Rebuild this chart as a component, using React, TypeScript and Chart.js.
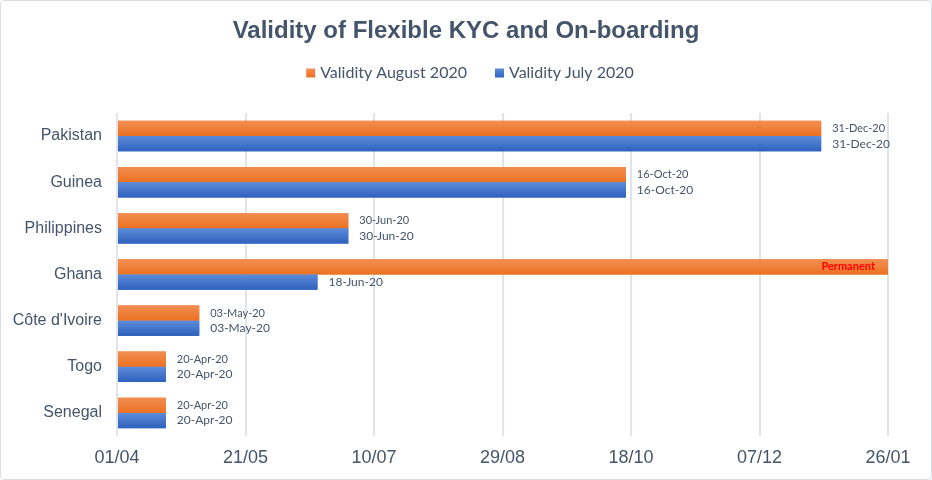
import { useEffect, useRef } from "react";
import { Chart, registerables } from "chart.js";

Chart.register(...registerables);

// Countries, top to bottom
const countries = ["Pakistan", "Guinea", "Philippines", "Ghana", "Côte d'Ivoire", "Togo", "Senegal"];

// Validity end dates (ISO); "Permanent" runs to the end of the axis
const validityAugust2020 = ["2020-12-31", "2020-10-16", "2020-06-30", "Permanent", "2020-05-03", "2020-04-20", "2020-04-20"];
const validityJuly2020 = ["2020-12-31", "2020-10-16", "2020-06-30", "2020-06-18", "2020-05-03", "2020-04-20", "2020-04-20"];

const seriesNames = ["Validity August 2020", "Validity July 2020"];

// Date axis: 01/04/2020 to 26/01/2021, a tick every 50 days
const axisStart = "2020-04-01";
const axisEnd = "2021-01-26";
const tickStepDays = 50;

const DAY = 86400000;
const MONTHS = ["Jan", "Feb", "Mar", "Apr", "May", "Jun", "Jul", "Aug", "Sep", "Oct", "Nov", "Dec"];

const toUtc = (iso: string) => {
  const [y, m, d] = iso.split("-").map(Number);
  return Date.UTC(y, m - 1, d);
};
const startMs = toUtc(axisStart);
const totalDays = Math.round((toUtc(axisEnd) - startMs) / DAY);
const daysFromStart = (v: string) => (v === "Permanent" ? totalDays : Math.round((toUtc(v) - startMs) / DAY));
const pad2 = (n: number) => String(n).padStart(2, "0");
const labelFor = (v: string) => {
  if (v === "Permanent") return v;
  const d = new Date(toUtc(v));
  return `${pad2(d.getUTCDate())}-${MONTHS[d.getUTCMonth()]}-${String(d.getUTCFullYear()).slice(2)}`;
};
const tickLabel = (days: number) => {
  const d = new Date(startMs + days * DAY);
  return `${pad2(d.getUTCDate())}/${pad2(d.getUTCMonth() + 1)}`;
};

const TEXT = "#44546A";
const ORANGE = ["#F38E52", "#EB7121"];
const BLUE = ["#5C8CD9", "#2E61BD"];
const FILLS = [ORANGE, BLUE];
const rawSeries = [validityAugust2020, validityJuly2020];

const chromePlugin = {
  id: "chrome",
  beforeDraw(chart: any) {
    const { ctx, width, height } = chart;
    ctx.save();
    ctx.fillStyle = "#FFFFFF";
    ctx.fillRect(0, 0, width, height);
    ctx.strokeStyle = "#D9DDE3";
    ctx.lineWidth = 1;
    ctx.beginPath();
    ctx.roundRect(0.5, 0.5, width - 1, height - 1, 4);
    ctx.stroke();

    // title
    ctx.fillStyle = TEXT;
    ctx.font = "bold 24px 'Liberation Sans', Arial, sans-serif";
    ctx.textAlign = "center";
    ctx.textBaseline = "middle";
    ctx.fillText("Validity of Flexible KYC and On-boarding", width / 2, 31);

    // legend
    ctx.font = "16px Lato, sans-serif";
    ctx.textAlign = "left";
    const box = 9, gap = 5, spacing = 28;
    const widths = seriesNames.map((n) => ctx.measureText(n).width);
    const total = widths.reduce((a, w) => a + box + gap + w, 0) + spacing * (seriesNames.length - 1);
    let x = width / 2 + 4 - total / 2;
    const ly = 73;
    seriesNames.forEach((n, i) => {
      const g = ctx.createLinearGradient(0, ly - box / 2, 0, ly + box / 2);
      g.addColorStop(0, FILLS[i][0]);
      g.addColorStop(1, FILLS[i][1]);
      ctx.fillStyle = g;
      ctx.fillRect(x, ly - box / 2, box, box);
      ctx.fillStyle = TEXT;
      ctx.fillText(n, x + box + gap, ly);
      x += box + gap + widths[i] + spacing;
    });
    ctx.restore();
  },
  afterDatasetsDraw(chart: any) {
    const { ctx } = chart;
    ctx.save();
    chart.data.datasets.forEach((_: any, di: number) => {
      const meta = chart.getDatasetMeta(di);
      meta.data.forEach((el: any, j: number) => {
        const { x, y, base, height } = el.getProps(["x", "y", "base", "height"], true);
        const top = y - height / 2;
        const g = ctx.createLinearGradient(0, top, 0, top + height);
        g.addColorStop(0, FILLS[di][0]);
        g.addColorStop(1, FILLS[di][1]);
        ctx.fillStyle = g;
        ctx.fillRect(base, top, x - base, height);

        const raw = rawSeries[di][j];
        ctx.textBaseline = "middle";
        if (raw === "Permanent") {
          ctx.font = "bold 11px Lato, sans-serif";
          ctx.fillStyle = "#FF0000";
          ctx.textAlign = "right";
          ctx.fillText(labelFor(raw), x - 13, y);
        } else {
          ctx.font = di === 0 ? "11px Lato, sans-serif" : "12px Lato, sans-serif";
          ctx.fillStyle = TEXT;
          ctx.textAlign = "left";
          ctx.fillText(labelFor(raw), x + 11, y);
        }
      });
    });
    ctx.restore();
  },
};

export default function App() {
  const ref = useRef<HTMLCanvasElement | null>(null);

  useEffect(() => {
    if (!ref.current) return;
    const chart = new Chart(ref.current, {
      type: "bar",
      data: {
        labels: countries,
        datasets: rawSeries.map((s, i) => ({
          label: seriesNames[i],
          data: s.map(daysFromStart),
          backgroundColor: FILLS[i][1],
          borderWidth: 0,
          categoryPercentage: 0.66,
          barPercentage: 1,
        })),
      },
      options: {
        indexAxis: "y",
        responsive: false,
        animation: false,
        events: [],
        layout: { padding: { top: 113, left: 8, right: 44, bottom: 4 } },
        plugins: {
          legend: { display: false },
          title: { display: false },
          tooltip: { enabled: false },
        },
        scales: {
          x: {
            type: "linear",
            min: 0,
            max: totalDays,
            ticks: {
              stepSize: tickStepDays,
              autoSkip: false,
              maxRotation: 0,
              padding: 11,
              color: TEXT,
              font: { family: "'Liberation Sans', Arial, sans-serif", size: 18 },
              callback: (v: any) => tickLabel(Number(v)),
            },
            grid: { color: "#E0E3E9", lineWidth: 2, drawTicks: false },
            border: { display: false },
            afterFit: (s: any) => {
              s.height = 40;
            },
          },
          y: {
            ticks: {
              padding: 15,
              color: TEXT,
              font: { family: "'Liberation Sans', Arial, sans-serif", size: 16 },
            },
            grid: { display: false, drawTicks: false },
            border: { display: false },
            afterFit: (s: any) => {
              s.width = 109;
            },
          },
        },
      },
      plugins: [chromePlugin],
    } as any);
    return () => chart.destroy();
  }, []);

  return (
    <div style={{ position: "fixed", left: 0, top: 0, width: 932, height: 480 }}>
      <canvas ref={ref} width={932} height={480} />
    </div>
  );
}
